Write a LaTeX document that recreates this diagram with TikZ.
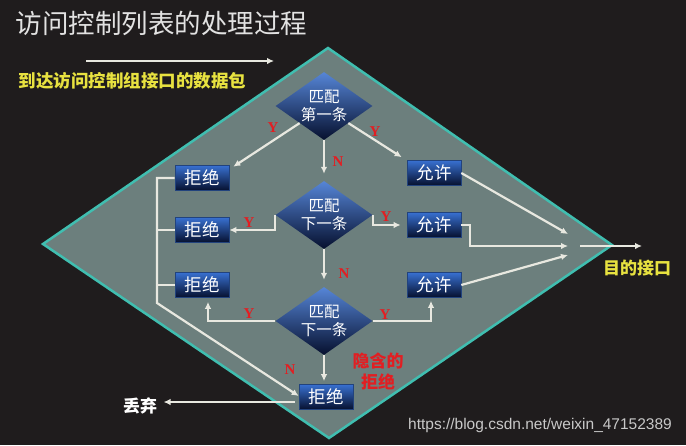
\documentclass[tikz,border=0pt]{standalone}
\usepackage{fontspec}
\setmainfont{Liberation Sans}
\newfontfamily\cjk{Noto Sans CJK SC}
\newfontfamily\ynfont{Liberation Serif}
\usetikzlibrary{arrows.meta,calc,shapes.geometric}
\definecolor{bgdark}{RGB}{31,28,29}
\definecolor{plate}{RGB}{108,127,125}
\definecolor{rim}{RGB}{64,190,176}
\definecolor{arrowgrey}{RGB}{232,232,224}
\definecolor{boxtop}{RGB}{56,112,208}
\definecolor{boxbot}{RGB}{6,16,46}
\definecolor{signyellow}{RGB}{232,226,64}
\definecolor{signred}{RGB}{226,30,34}
\definecolor{titlegrey}{RGB}{226,226,226}
\definecolor{wmgrey}{RGB}{200,200,200}
\tikzset{
	flow/.style={draw=arrowgrey, line width=2.2pt, -{Latex[length=7pt,width=6.5pt]}},
	verdict/.style={rectangle, minimum width=54pt, minimum height=25pt, inner sep=0pt, top color=boxtop, bottom color=boxbot, draw=boxtop!60!black, line width=0.6pt, text=white, font=\cjk\fontsize{17.5}{19}\selectfont},
	match/.style={diamond, aspect=1.43, minimum width=97pt, minimum height=68pt, inner sep=0pt, top color=boxtop!85!white, bottom color=boxbot, text=white, align=center, font=\cjk\fontsize{15.5}{18}\selectfont},
	yn/.style={text=signred, font=\ynfont\bfseries\fontsize{15}{15}\selectfont},
}

\begin{document}
\begin{tikzpicture}[x=1pt,y=-1pt]
	%%%%% START %%%%%
	
	\fill[bgdark] (0,0) rectangle (686,445);
	\useasboundingbox (0,0) rectangle (686,445);
	
	\draw[rim, line width=2.5pt, fill=plate] (328,48) -- (612,245) -- (329,438) -- (43,244) -- cycle;
	
	\node[anchor=west, text=titlegrey, font=\cjk\fontsize{26.5}{30}\selectfont] (title) at (12,23) {访问控制列表的处理过程};
	\coordinate (inleft) at (86,61);
	\coordinate (inright) at (274,61);
	\draw[flow] (inleft) -- (inright);
	\node[anchor=west, text=signyellow, font=\cjk\bfseries\fontsize{17.5}{20}\selectfont] (packet) at (15,81) {到达访问控制组接口的数据包};
	
	\node[match] (m1) at (324,106) {匹配\\第一条};
	\node[match] (m2) at (324,215) {匹配\\下一条};
	\node[match] (m3) at (324,321) {匹配\\下一条};
	
	\node[verdict] (deny1) at (202,178) {拒绝};
	\node[verdict] (deny2) at (202,230) {拒绝};
	\node[verdict] (deny3) at (202,285) {拒绝};
	\node[verdict] (deny4) at (326,397) {拒绝};
	
	\node[verdict] (permit1) at (434,173) {允许};
	\node[verdict] (permit2) at (434,225) {允许};
	\node[verdict] (permit3) at (434,285) {允许};
	
	% first rule
	\draw[flow] ($(m1.west)!0.5!(m1.south)$) -- ([shift={(4pt,-1.5pt)}]deny1.north east);
	\draw[flow] ($(m1.east)!0.5!(m1.south)$) -- ([shift={(-5pt,3pt)}]permit1.north west);
	\draw[flow, shorten >=7pt] (m1.south) -- (m2.north);
	\node[yn] (y1l) at (273,128) {Y};
	\node[yn] (y1r) at (375,132) {Y};
	\node[yn] (n1) at (338,162) {N};
	
	% next rule
	\draw[flow] (m2.west) |- (deny2.east);
	\draw[flow, shorten >=6pt] (m2.east) |- (permit2.west);
	\draw[flow, shorten >=7pt] (m2.south) -- (m3.north);
	\node[yn] (y2l) at (249,223) {Y};
	\node[yn] (y2r) at (386,217) {Y};
	\node[yn] (n2) at (344,274) {N};
	
	% last rule
	\draw[flow, shorten >=4pt] (m3.west) -| ([xshift=6pt]deny3.south);
	\draw[flow, shorten >=3pt] (m3.east) -| ([xshift=-3pt]permit3.south);
	\draw[flow, shorten >=3pt] (m3.south) -- (m3.south |- deny4.north);
	\node[yn] (y3l) at (249,314) {Y};
	\node[yn] (y3r) at (385,315) {Y};
	\node[yn] (n3) at (290,370) {N};
	\node[text=signred, align=center, font=\cjk\bfseries\fontsize{17}{21}\selectfont] (implicit) at (378,371) {隐含的\\拒绝};
	
	% deny bus
	\coordinate (bus) at (157,303);
	\draw[flow] (deny1.west) -| (bus) -- ([yshift=1pt]deny4.west);
	\draw[draw=arrowgrey, line width=2.2pt] (deny2.west) -- (deny2.west -| bus);
	\draw[draw=arrowgrey, line width=2.2pt] (deny3.west) -- (deny3.west -| bus);
	
	\node[text=white, font=\cjk\bfseries\fontsize{17}{20}\selectfont] (drop) at (140,406) {丢弃};
	\coordinate (dropstart) at ([shift={(-4pt,-5pt)}]deny4.west);
	\draw[flow] (dropstart) -- ([xshift=3pt]drop.east |- dropstart);
	
	% permit join
	\coordinate (join) at (568,246);
	\draw[flow] (permit1.east) -- ([yshift=12pt]join);
	\draw[flow] (permit2.east) -- ++(9,0) |- (join);
	\draw[flow] (permit3.east) -- ([yshift=-9pt]join);
	\coordinate (outstart) at (580,246);
	\coordinate (outend) at (642,246);
	\draw[flow] (outstart) -- (outend);
	\node[text=signyellow, font=\cjk\bfseries\fontsize{17}{20}\selectfont] (dest) at (637,268) {目的接口};
	
	\node[text=wmgrey, font=\fontsize{15.5}{18}\selectfont] (mark) at (540,425) {https://blog.csdn.net/weixin\_47152389};
	
	%%%%% END %%%%%
\end{tikzpicture}
\end{document}
